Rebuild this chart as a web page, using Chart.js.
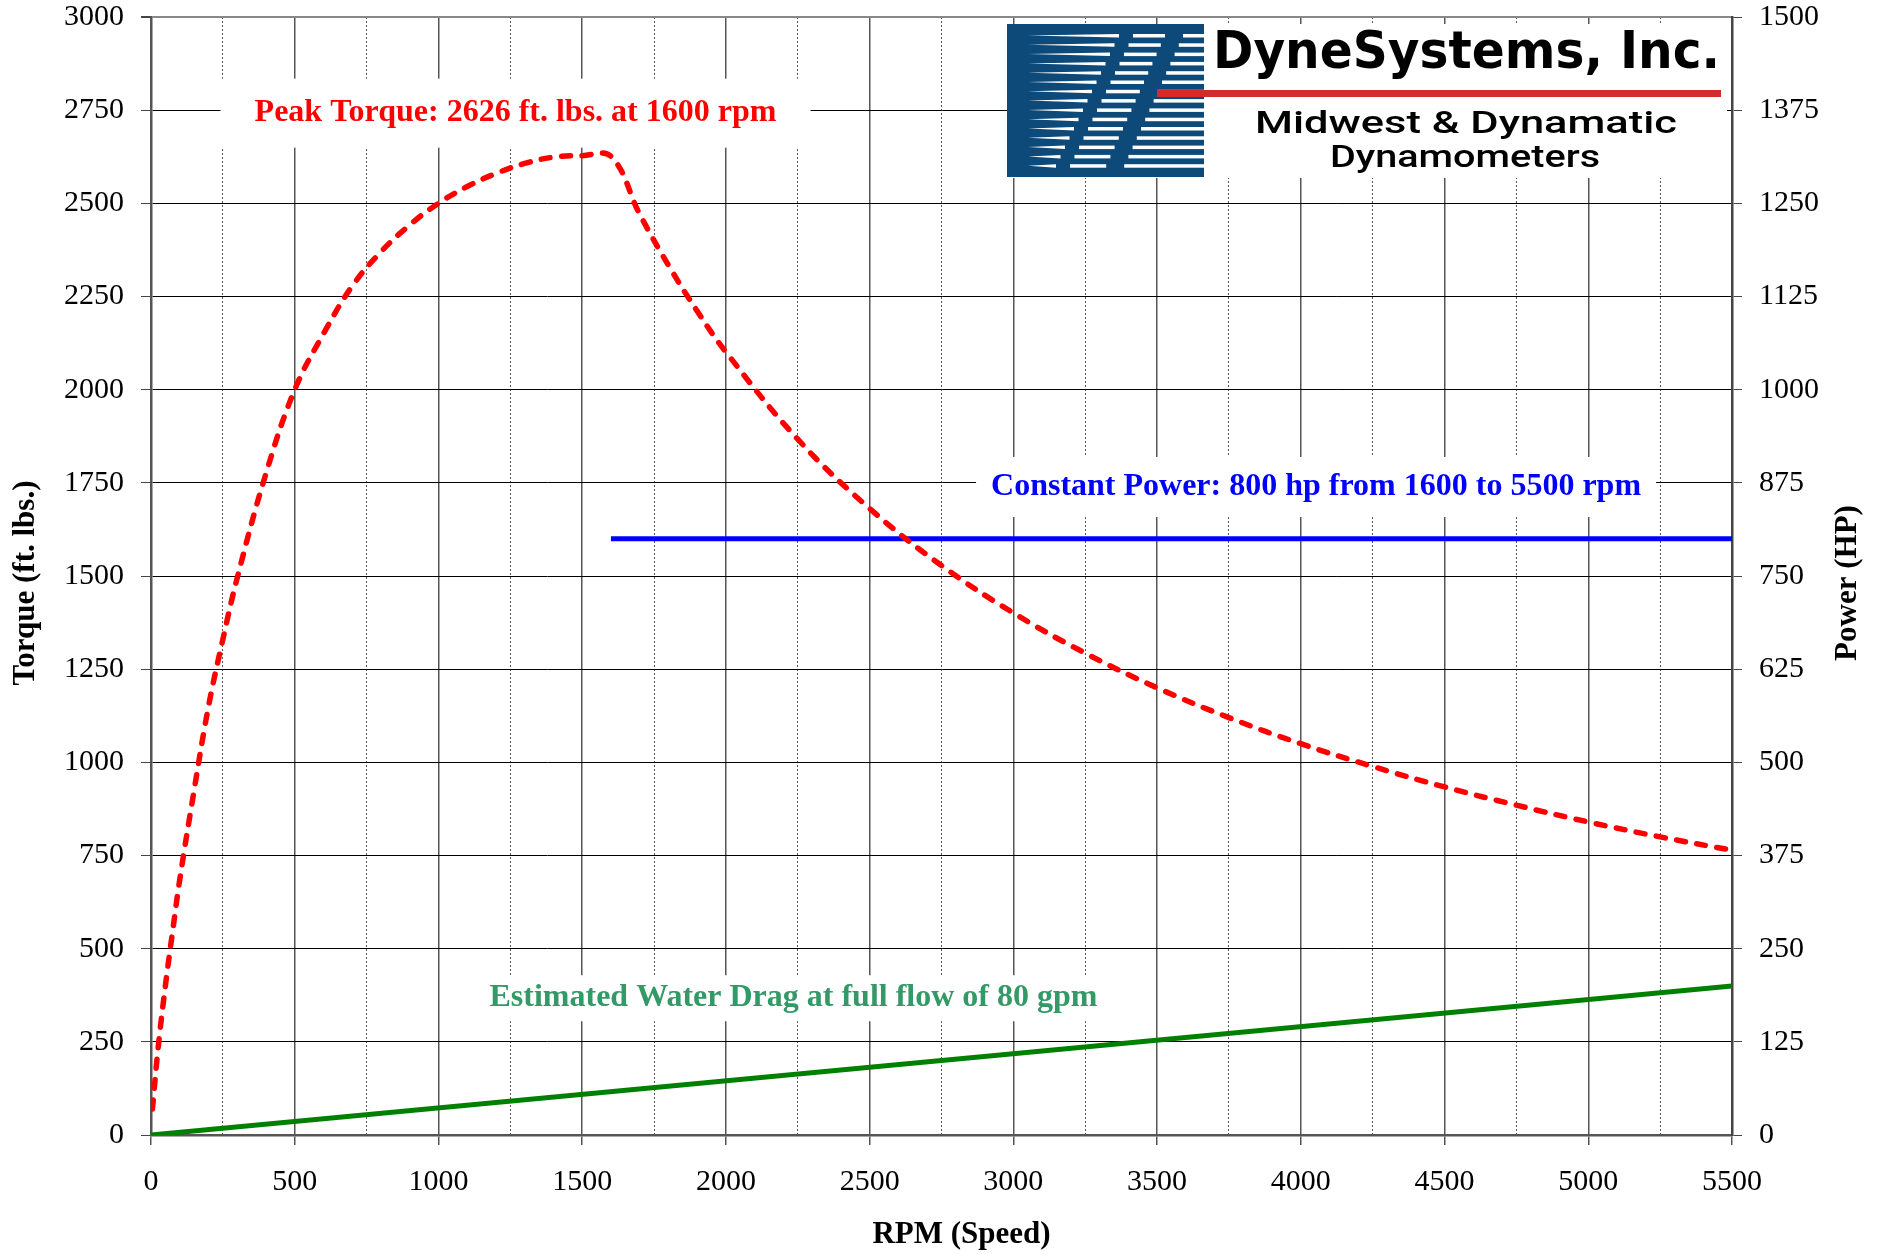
<!DOCTYPE html>
<html>
<head>
<meta charset="utf-8">
<script src="https://cdn.jsdelivr.net/npm/chart.js@4.4.1/dist/chart.umd.min.js"></script>
<style>
  html, body { margin: 0; padding: 0; background: #fff; }
  #wrap { width: 1885px; height: 1255px; }
</style>
</head>
<body>
<div id="wrap"><canvas id="torqueChart" width="1885" height="1255"></canvas></div>
<script>
// torque curve (ft. lbs.)
const torqueRpm = [5, 25, 50, 75, 100, 150, 200, 250, 300, 400, 500, 600, 700, 800, 900, 1000,
  1100, 1200, 1300, 1400, 1500, 1600, 1700, 1800, 1900, 2000, 2250, 2500, 2750, 3000, 3250,
  3500, 3750, 4000, 4250, 4500, 4750, 5000, 5250, 5500];
const torqueFtLbs = [70, 235, 400, 545, 685, 925, 1150, 1330, 1495, 1775, 2000, 2150, 2278, 2370, 2442, 2500,
  2545, 2580, 2607, 2624, 2628, 2626, 2471, 2334, 2211, 2101, 1867, 1681, 1528, 1401, 1293,
  1200, 1120, 1050, 989, 934, 885, 840, 800, 764];

// water drag (ft. lbs.)
const dragRpm = [0, 5500];
const dragFtLbs = [0, 400];

// constant power (hp, right axis)
const powerRpm = [1600, 5500];
const powerHp = [800, 800];

// axis ranges
const rpmRange = [0, 5500];
const torqueRange = [0, 3000];
const hpRange = [0, 1500];

const serif = '"Liberation Serif", "Times New Roman", Times, serif';
const sans = '"DejaVu Sans", Verdana, sans-serif';

const notes = [
  { text: "Peak Torque: 2626 ft. lbs. at 1600 rpm", color: "#ff0000", rpm: 1268, torque: 2742, w: 590, h: 69 },
  { text: "Constant Power: 800 hp from 1600 to 5500 rpm", color: "#0000ff", rpm: 4053, torque: 1739, w: 680, h: 60 },
  { text: "Estimated Water Drag at full flow of 80 gpm", color: "#339966", rpm: 2235, torque: 367, w: 650, h: 46 }
];

const toPoints = (xs, ys) => xs.map((x, i) => ({ x: x, y: ys[i] }));

// draw text squeezed/stretched to an exact width
function fitText(c, text, x, y, width) {
  const w = c.measureText(text).width;
  c.save();
  c.translate(x, y);
  c.scale(width / w, 1);
  c.fillText(text, 0, 0);
  c.restore();
}

function drawLogo(c, area) {
  const x0 = area.right - 725, y0 = area.top + 7;
  c.fillStyle = "#fff";
  c.fillRect(x0, y0, 720, 154);
  // blue block with streaked stripes
  c.fillStyle = "#0d4a7a";
  c.fillRect(x0, y0, 197, 153);
  c.fillStyle = "#fff";
  for (let i = 0; i < 15; i++) {
    const y = y0 + 10 + i * 9.3;
    const gap1 = x0 + 168 - i * 4.2;
    const gap2 = x0 + 118 - i * 4.5;
    c.beginPath();
    c.moveTo(x0 + 21, y + 1.5);
    c.lineTo(gap2 - 6, y);
    c.lineTo(gap2 - 6, y + 3.5);
    c.closePath();
    c.fill();
    c.fillRect(gap2 + 8, y, gap1 - gap2 - 18, 3.5);
    c.fillRect(gap1 + 8, y, x0 + 197 - gap1 - 8, 3.5);
  }
  // red bar
  c.fillStyle = "#d62b2b";
  c.fillRect(x0 + 150, y0 + 66, 564, 7);
  c.fillStyle = "#000";
  c.textAlign = "left";
  c.textBaseline = "alphabetic";
  c.font = "bold 52px " + sans;
  fitText(c, "DyneSystems, Inc.", x0 + 206, y0 + 44, 507);
  c.font = '500 32px Roboto, "DejaVu Sans", sans-serif';
  fitText(c, "Midwest & Dynamatic", x0 + 248, y0 + 109, 422);
  fitText(c, "Dynamometers", x0 + 323, y0 + 143, 270);
}

// white boxed labels + logo, drawn over the grid but under the lines
const notesPlugin = {
  id: "notes",
  beforeDatasetsDraw(chart) {
    const c = chart.ctx;
    const sx = chart.scales.x, sy = chart.scales.y;
    c.save();
    c.font = "bold 32px " + serif;
    c.textAlign = "center";
    c.textBaseline = "middle";
    notes.forEach(n => {
      const px = sx.getPixelForValue(n.rpm);
      const py = sy.getPixelForValue(n.torque);
      c.fillStyle = "#fff";
      c.fillRect(px - n.w / 2, py - n.h / 2, n.w, n.h);
      c.fillStyle = n.color;
      c.fillText(n.text, px, py);
    });
    drawLogo(c, chart.chartArea);
    c.restore();
  },
  // axis titles (both vertical ones read bottom-to-top)
  afterDraw(chart) {
    const c = chart.ctx;
    const a = chart.chartArea;
    const midY = (a.top + a.bottom) / 2 + 7;
    c.save();
    c.fillStyle = "#000";
    c.font = "bold 31px " + serif;
    c.textAlign = "center";
    c.textBaseline = "middle";
    c.fillText("RPM (Speed)", (a.left + a.right) / 2 + 20, chart.height - 20);
    [["Torque (ft. lbs.)", 26], ["Power (HP)", chart.width - 37]].forEach(([t, x]) => {
      c.save();
      c.translate(x, midY);
      c.rotate(-Math.PI / 2);
      c.fillText(t, 0, 0);
      c.restore();
    });
    c.restore();
  }
};

const noPad = s => { s.paddingTop = 0; s.paddingBottom = 0; s.paddingLeft = 0; s.paddingRight = 0; };

const ctx = document.getElementById("torqueChart");
new Chart(ctx, {
  type: "line",
  data: {
    datasets: [{
      label: "Torque",
      data: toPoints(torqueRpm, torqueFtLbs),
      yAxisID: "y",
      borderColor: "#ff0000",
      borderWidth: 5.5,
      borderDash: [9, 11.5],
      borderCapStyle: "round",
      tension: 0.4,
      pointRadius: 0,
      fill: false
    }, {
      label: "Constant Power",
      data: toPoints(powerRpm, powerHp),
      yAxisID: "y2",
      borderColor: "#0000ff",
      borderWidth: 5,
      pointRadius: 0,
      fill: false
    }, {
      label: "Water Drag",
      data: toPoints(dragRpm, dragFtLbs),
      yAxisID: "y",
      borderColor: "#008000",
      borderWidth: 5,
      pointRadius: 0,
      fill: false
    }]
  },
  options: {
    responsive: false,
    animation: false,
    layout: { padding: { top: 17, left: 0, right: 0, bottom: 0 } },
    plugins: { legend: { display: false }, tooltip: { enabled: false } },
    scales: {
      x: {
        type: "linear",
        min: rpmRange[0],
        max: rpmRange[1],
        afterFit(s) { s.height = 120; noPad(s); },
        ticks: {
          stepSize: 250,
          padding: 19,
          maxRotation: 0,
          autoSkip: false,
          color: "#000",
          font: { family: serif, size: 30 },
          callback: v => (v % 500 === 0 ? String(v) : "")
        },
        grid: {
          color: "#555",
          lineWidth: c => (c.tick && c.tick.value % 500 !== 0 ? 1 : 1.5),
          tickLength: 10,
          tickColor: c => (c.tick && c.tick.value % 500 !== 0 ? "rgba(0,0,0,0)" : "#555")
        },
        border: {
          color: "#555",
          width: 2.5,
          dash: c => (c.tick && c.tick.value % 500 !== 0 ? [2, 2] : [])
        }
      },
      y: {
        position: "left",
        min: torqueRange[0],
        max: torqueRange[1],
        afterFit(s) { s.width = 151; noPad(s); },
        ticks: {
          stepSize: 250,
          padding: 17,
          color: "#000",
          font: { family: serif, size: 30 },
          callback: v => String(v)
        },
        grid: {
          color: c => (c.tick && c.tick.value === 3000 ? "#888" : "#000"),
          lineWidth: c => (c.tick && c.tick.value === 3000 ? 2 : 1),
          tickLength: 10,
          tickColor: "#444"
        },
        border: { color: "#555", width: 2.5 }
      },
      y2: {
        position: "right",
        min: hpRange[0],
        max: hpRange[1],
        afterFit(s) { s.width = 153; noPad(s); },
        ticks: {
          stepSize: 125,
          padding: 17,
          color: "#000",
          font: { family: serif, size: 30 },
          callback: v => String(v)
        },
        grid: { drawOnChartArea: false, tickLength: 10, tickColor: "#444" },
        border: { color: "#444", width: 2.5 }
      }
    }
  },
  plugins: [notesPlugin]
});
</script>
</body>
</html>
